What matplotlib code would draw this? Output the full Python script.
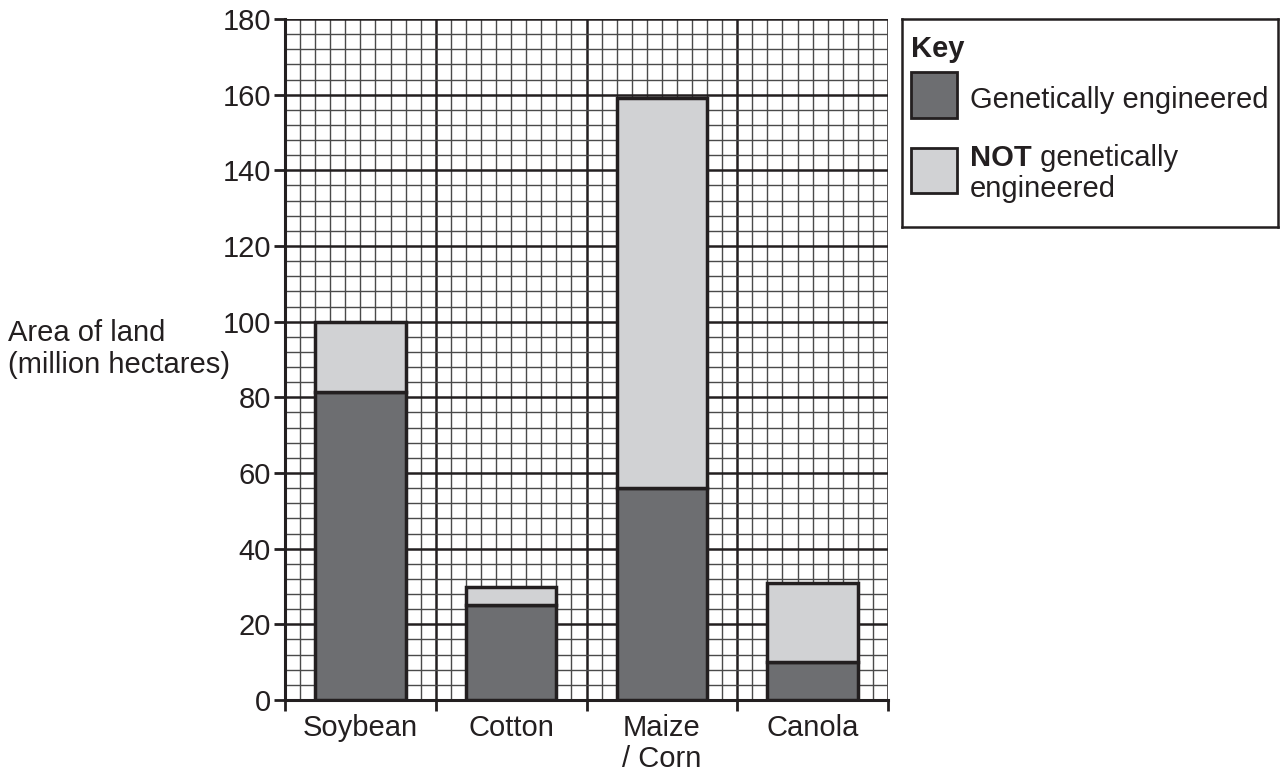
import matplotlib.pyplot as plt
from matplotlib.patches import Rectangle
from matplotlib.ticker import MultipleLocator

plt.rcParams['font.family'] = ['Liberation Sans', 'DejaVu Sans']

crops = ['Soybean', 'Cotton', 'Maize\n/ Corn', 'Canola']
ge_area = [81.5, 25, 56, 10]
total_area = [100, 30, 159, 31]
non_ge_area = [t - g for t, g in zip(total_area, ge_area)]

dark = '#6d6e71'
light = '#d1d2d4'
ink = '#231f20'
fs = 21

fig = plt.figure(figsize=(12.82, 7.78), dpi=100)
W, H = 1282, 778
ax = fig.add_axes([285 / W, 1 - 700 / H, (888 - 285) / W, (700 - 19) / H])

x = [i + 0.5 for i in range(len(crops))]
ax.bar(x, ge_area, 0.6, color=dark, edgecolor=ink, linewidth=2.5, zorder=3)
ax.bar(x, non_ge_area, 0.6, bottom=ge_area, color=light, edgecolor=ink,
       linewidth=2.5, zorder=3)

ax.set_xlim(0, 4)
ax.set_ylim(0, 180)
ax.set_xticks(range(5))
ax.set_xticklabels([])
ax.xaxis.set_minor_locator(MultipleLocator(0.1))
ax.set_yticks(range(0, 181, 20))
ax.yaxis.set_minor_locator(MultipleLocator(4))
ax.tick_params(which='major', direction='out', length=8, width=2, color=ink,
               labelsize=fs, labelcolor=ink, pad=2)
ax.tick_params(which='minor', length=0)

ax.grid(which='minor', color='#4a4a4a', linewidth=1.0, zorder=0)
ax.grid(which='major', color=ink, linewidth=1.8, zorder=1)
ax.set_axisbelow(True)

for s in ['top', 'right']:
    ax.spines[s].set_visible(False)
for s in ['left', 'bottom']:
    ax.spines[s].set_linewidth(2.2)
    ax.spines[s].set_color(ink)

for xi, name in zip(x, crops):
    ax.text(xi, -0.02, name, transform=ax.get_xaxis_transform(), ha='center',
            va='top', fontsize=fs, color=ink, linespacing=1.15)

fig.text(8 / W, 1 - 349 / H, 'Area of land\n(million hectares)', ha='left',
         va='center', fontsize=fs, color=ink, linespacing=1.15)

# key box
kx = fig.add_axes([902 / W, 1 - 227 / H, (1278 - 902) / W, (227 - 19) / H])
kx.set_xlim(0, 376)
kx.set_ylim(208, 0)
kx.set_xticks([])
kx.set_yticks([])
for s in kx.spines.values():
    s.set_linewidth(1.8)
    s.set_color(ink)

kx.text(9, 30, 'Key', fontsize=fs, fontweight='bold', va='center', color=ink)
kx.add_patch(Rectangle((9, 53), 46, 46, facecolor=dark, edgecolor=ink, linewidth=2))
kx.add_patch(Rectangle((9, 129), 46, 45, facecolor=light, edgecolor=ink, linewidth=2))
kx.text(68, 81, 'Genetically engineered', fontsize=fs, va='center', color=ink)
t_not = kx.text(68, 139, 'NOT', fontsize=fs, fontweight='bold', va='center', color=ink)
kx.annotate(' genetically', xy=(1, 0), xycoords=t_not, ha='left', va='bottom',
            fontsize=fs, color=ink)
kx.text(68, 170, 'engineered', fontsize=fs, va='center', color=ink)

fig.savefig('out.png', dpi=100)
